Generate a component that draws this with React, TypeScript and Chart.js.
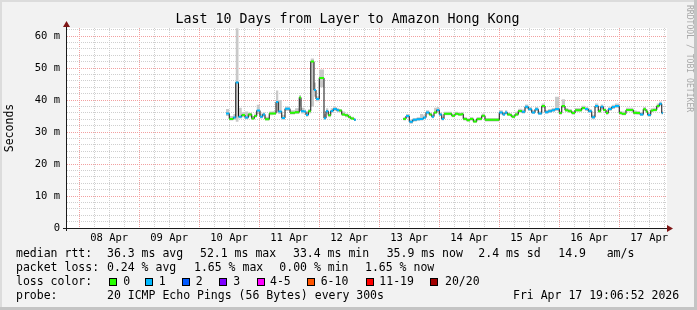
import React, { useEffect, useRef } from 'react';
import { Chart, registerables } from 'chart.js';

Chart.register(...registerables);

// ---------------- data ----------------
const TITLE = 'Last 10 Days from Layer to Amazon Hong Kong';
const Y_TITLE = 'Seconds';
const SIDE_TEXT = 'RRDTOOL / TOBI OETIKER';

// x axis: hours since Apr 7 19:06:52 (10 day window = 240 h)
const rangeHours = 240;
const firstMidnightHour = 4.8856; // Apr 8 00:00
const dayLabels = ['08 Apr', '09 Apr', '10 Apr', '11 Apr', '12 Apr', '13 Apr', '14 Apr', '15 Apr', '16 Apr', '17 Apr'];

const yMax = 62.5;
const yGridValues = [0, 2, 4, 6, 8, 10, 12, 14, 16, 18, 20, 22, 24, 26, 28, 30, 32, 34, 36, 38, 40, 42, 44, 46, 48, 50, 52, 54, 56, 58, 60, 62];
const yLabelMap: Record<number, string> = { 0: '0', 10: '10 m', 20: '20 m', 30: '30 m', 40: '40 m', 50: '50 m', 60: '60 m' };

// sample start times (hours); a null median marks the gap with no data
const hours = [
  63.6, 64.9, 66.5, 67.5, 68.6, 69.9, 71.2, 72.5, 73.9, 74.9,
  75.9, 77.2, 78.3, 79.2, 80.9, 82.3, 83.6, 84.5, 85.9, 87.2,
  89.2, 91.2, 92.9, 93.6, 94.8, 95.6, 96.5, 97.5, 98.8, 99.6,
  100.9, 102.8, 103.6, 104.5, 105.5, 106.5, 107.9, 108.9, 109.9, 111.2,
  112.5, 113.5, 114.8,
  115.5,
  134.5, 135.6, 136.9, 138.3, 139.9, 141.2, 142.5, 143.6, 144.9, 145.9,
  146.8, 147.9, 148.9, 149.9, 150.8, 152.5, 153.9, 155.2, 156.5, 157.9,
  158.5, 159.9, 161.2, 162.5, 163.9, 165.9, 167.2, 169.9, 171.9, 172.9,
  174.3, 175.2, 176.1, 177.2, 177.9, 179.2, 180.5, 181.9, 183.2, 184.5,
  185.9, 187.2, 188.5, 189.9, 191.2, 192.5, 193.9, 195.2, 196.9, 197.9,
  199.2, 200.5, 201.9, 203.2, 204.5, 205.9, 207.2, 208.5, 209.9, 211.2,
  212.5, 213.5, 214.5, 215.6, 216.5, 217.9, 219.2, 220.1, 220.9, 221.9,
  223.6, 225.2, 226.5, 227.9, 229.2, 230.5, 231.6, 232.3, 233.5, 234.5,
  235.9, 236.9, 237.9,
];
const endHour = 238.3;

const medianMs: (number | null)[] = [
  35.8, 34.1, 34.5, 45.5, 34.8, 35.3, 34.5, 35.5, 34.2, 35.0,
  36.7, 34.8, 35.5, 34.0, 35.8, 35.8, 39.4, 36.4, 34.4, 37.3,
  36.0, 36.2, 40.8, 36.5, 36.4, 35.3, 36.5, 52.0, 43.1, 40.3,
  46.9, 34.3, 36.5, 35.2, 36.6, 37.2, 36.8, 36.7, 35.5, 35.2,
  34.7, 34.2, 33.8,
  null,
  34.1, 35.0, 33.2, 33.8, 34.0, 34.1, 34.5, 36.1, 35.5, 34.8,
  36.1, 36.9, 35.5, 34.1, 35.7, 35.7, 35.1, 35.7, 35.5, 35.6,
  34.1, 33.7, 34.1, 33.3, 34.1, 35.1, 33.8, 33.8, 33.8, 36.1,
  35.5, 36.1, 35.5, 35.3, 34.8, 35.5, 36.6, 36.3, 37.9, 37.1,
  36.1, 37.1, 35.8, 38.1, 36.2, 36.5, 36.8, 37.2, 35.9, 38.1,
  36.8, 36.5, 35.9, 36.8, 36.8, 37.5, 37.2, 36.5, 34.6, 38.1,
  36.5, 37.9, 36.9, 35.9, 37.2, 37.8, 38.1, 38.1, 35.9, 35.7,
  36.9, 36.9, 36.0, 35.9, 35.5, 37.1, 36.4, 35.3, 36.7, 36.9,
  38.1, 38.8, 35.9,
];

// loss colour index per sample (0 = no loss, 1 = 1/20 ...)
const lossLevel: (number | null)[] = [
  1, 0, 1, 1, 1, 0, 1, 0, 0, 0,
  1, 1, 1, 0, 0, 0, 1, 1, 1, 1,
  0, 0, 0, 1, 1, 1, 0, 0, 1, 1,
  0, 1, 1, 0, 1, 1, 1, 0, 0, 0,
  0, 0, 1,
  null,
  0, 1, 1, 1, 1, 1, 1, 1, 0, 1,
  0, 1, 1, 1, 0, 0, 0, 0, 0, 0,
  0, 0, 0, 0, 0, 0, 0, 0, 0, 1,
  1, 1, 0, 0, 0, 0, 0, 1, 1, 1,
  1, 1, 1, 0, 1, 1, 1, 1, 0, 0,
  0, 0, 0, 0, 0, 0, 1, 1, 1, 1,
  0, 1, 0, 0, 1, 1, 1, 1, 0, 0,
  0, 0, 0, 0, 1, 0, 0, 1, 0, 0,
  0, 1, 1,
];

const smokeLowMs: (number | null)[] = [
  35.0, 33.6, 33.8, 33.2, 34.2, 34.6, 34.0, 34.8, 33.8, 34.5,
  35.6, 34.2, 34.9, 33.6, 35.2, 35.3, 36.0, 35.6, 33.8, 36.6,
  35.5, 35.6, 38.0, 35.8, 35.8, 34.8, 35.8, 38.0, 41.0, 39.6,
  44.0, 33.8, 35.8, 34.6, 36.0, 36.6, 36.2, 36.2, 35.0, 34.6,
  34.2, 33.8, 33.4,
  null,
  33.6, 34.4, 32.6, 33.3, 33.5, 33.6, 34.0, 35.5, 35.0, 34.3,
  35.6, 36.3, 35.0, 33.6, 35.2, 35.2, 34.6, 35.2, 35.0, 35.1,
  33.6, 33.2, 33.6, 32.8, 33.6, 34.6, 33.3, 33.3, 33.3, 35.5,
  35.0, 35.6, 35.0, 34.8, 34.3, 35.0, 36.0, 35.8, 37.3, 36.6,
  35.6, 36.6, 35.3, 37.5, 35.7, 36.0, 36.3, 36.6, 35.4, 37.5,
  36.3, 36.0, 35.4, 36.3, 36.3, 37.0, 36.6, 36.0, 34.0, 37.5,
  36.0, 37.3, 36.4, 35.4, 36.6, 37.2, 37.5, 37.5, 35.4, 35.2,
  36.4, 36.4, 35.5, 35.4, 35.0, 36.6, 35.9, 34.8, 36.2, 36.4,
  37.5, 38.2, 35.3,
];

const smokeHighMs: (number | null)[] = [
  37.2, 35.0, 35.6, 62.4, 37.6, 36.2, 36.4, 36.0, 35.0, 35.8,
  38.5, 35.8, 36.1, 34.8, 36.4, 36.5, 43.0, 40.0, 35.4, 38.0,
  36.8, 37.4, 41.6, 37.6, 37.0, 36.0, 37.2, 53.0, 45.5, 41.2,
  49.5, 35.6, 37.4, 35.8, 37.4, 37.8, 37.4, 37.2, 36.4, 35.8,
  35.2, 34.8, 34.3,
  null,
  34.7, 35.6, 33.9, 34.4, 34.6, 35.6, 35.2, 36.8, 36.1, 35.4,
  37.6, 37.8, 36.1, 34.8, 36.3, 36.3, 35.7, 36.3, 36.1, 36.2,
  34.7, 34.3, 34.7, 33.9, 34.7, 35.8, 34.4, 34.4, 34.4, 36.8,
  36.1, 36.8, 36.1, 35.9, 35.4, 36.3, 37.3, 37.0, 38.6, 37.8,
  36.8, 37.8, 36.5, 38.9, 36.9, 37.2, 37.5, 41.0, 36.6, 40.2,
  37.5, 37.2, 36.6, 37.5, 37.5, 38.2, 37.9, 37.2, 35.4, 38.9,
  37.2, 38.6, 37.6, 36.6, 37.9, 38.5, 38.9, 38.9, 36.6, 36.4,
  37.6, 37.6, 36.7, 36.6, 36.2, 37.8, 37.1, 36.0, 37.4, 37.6,
  38.9, 39.5, 36.6,
];

const lossLabels = ['0', '1', '2', '3', '4-5', '6-10', '11-19', '20/20'];
const lossColors = ['#26ff00', '#00b8ff', '#0059ff', '#7e00ff', '#ff00ff', '#ff5500', '#ff0000', '#a10000'];

const rttHeader = 'median rtt:';
const rttStats = ['36.3 ms avg', '52.1 ms max', '33.4 ms min', '35.9 ms now', '2.4 ms sd', '14.9', 'am/s'];
const lossHeader = 'packet loss:';
const lossStats = ['0.24 % avg', '1.65 % max', '0.00 % min', '1.65 % now'];
const colorHeader = 'loss color:';
const probeHeader = 'probe:';
const probeText = '20 ICMP Echo Pings (56 Bytes) every 300s';
const stampText = 'Fri Apr 17 19:06:52 2026';

// ---------------- layout / style ----------------
const W = 697;
const H = 310;
const MONO = '"DejaVu Sans Mono", monospace';
const rttX = [107, 200, 293, 386.7, 478.3, 558.3, 606.7];
const lossX = [107, 194, 279.3, 365];
const boxX = [109, 145, 182, 219, 257, 307, 366, 430];
const boxLabelX = [123.3, 158.7, 195.7, 233.3, 270, 320.7, 379.3, 445];
const MAJOR_GRID = '#f2a0a0';
const MINOR_GRID = '#cfcfcf';

type P = { x: number; y: number | null };

function stepPoints(vals: (number | null)[]): P[] {
  const pts: P[] = [];
  for (let i = 0; i < hours.length; i++) {
    const v = vals[i];
    const next = i + 1 < hours.length ? hours[i + 1] : endHour;
    if (v === null) {
      pts.push({ x: hours[i], y: null });
      continue;
    }
    pts.push({ x: hours[i], y: v });
    const nv = i + 1 < hours.length ? vals[i + 1] : null;
    if (nv === null) pts.push({ x: next, y: v });
  }
  return pts;
}

function lossSegments(level: number): P[] {
  const pts: P[] = [];
  for (let i = 0; i < hours.length; i++) {
    const v = medianMs[i];
    if (v === null || lossLevel[i] !== level) continue;
    const next = i + 1 < hours.length ? hours[i + 1] : endHour;
    pts.push({ x: hours[i], y: v }, { x: next, y: v }, { x: next, y: null });
  }
  return pts;
}

const framePlugin = {
  id: 'frame',
  beforeDraw(chart: any) {
    const { ctx, chartArea: a } = chart;
    ctx.save();
    ctx.fillStyle = '#f2f2f2';
    ctx.fillRect(0, 0, W, H);
    ctx.fillStyle = '#dcdcdc';
    ctx.fillRect(0, 0, W, 2);
    ctx.fillRect(0, 0, 2, H);
    ctx.fillStyle = '#c4c4c4';
    ctx.fillRect(W - 3, 0, 3, H);
    ctx.fillRect(0, H - 3, W, 3);
    ctx.fillStyle = '#ffffff';
    ctx.fillRect(a.left, a.top, a.right - a.left, a.bottom - a.top);
    ctx.restore();
  },
  afterDatasetsDraw(chart: any) {
    const { ctx, chartArea: a } = chart;
    ctx.save();
    // axes
    ctx.fillStyle = '#1a1a1a';
    ctx.fillRect(a.left - 1, a.top - 3, 1, a.bottom - a.top + 6);
    ctx.fillRect(a.left - 4, a.bottom, a.right - a.left + 6, 1);
    // arrows
    ctx.fillStyle = '#7f1616';
    ctx.beginPath();
    ctx.moveTo(a.left - 4, a.top - 1);
    ctx.lineTo(a.left + 3, a.top - 1);
    ctx.lineTo(a.left - 0.5, a.top - 7);
    ctx.closePath();
    ctx.fill();
    ctx.beginPath();
    ctx.moveTo(a.right, a.bottom - 3);
    ctx.lineTo(a.right, a.bottom + 4);
    ctx.lineTo(a.right + 6, a.bottom + 0.5);
    ctx.closePath();
    ctx.fill();
    ctx.restore();
  },
  afterDraw(chart: any) {
    const { ctx } = chart;
    ctx.save();
    ctx.fillStyle = '#000';
    ctx.textBaseline = 'middle';
    ctx.textAlign = 'center';
    ctx.font = `13.3px ${MONO}`;
    ctx.fillText(TITLE, 347.5, 19.5);

    ctx.textAlign = 'left';
    ctx.font = `11.5px ${MONO}`;
    ctx.fillText(rttHeader, 16, 254);
    rttStats.forEach((s, i) => ctx.fillText(s, rttX[i], 254));
    ctx.fillText(lossHeader, 16, 268.5);
    lossStats.forEach((s, i) => ctx.fillText(s, lossX[i], 268.5));
    ctx.fillText(colorHeader, 16, 282);
    lossLabels.forEach((s, i) => {
      ctx.fillStyle = lossColors[i];
      ctx.fillRect(boxX[i], 278, 8, 8);
      ctx.strokeStyle = '#000';
      ctx.lineWidth = 1;
      ctx.strokeRect(boxX[i] + 0.5, 278.5, 7, 7);
      ctx.fillStyle = '#000';
      ctx.fillText(s, boxLabelX[i], 282);
    });
    ctx.fillText(probeHeader, 16, 296);
    ctx.fillText(probeText, 107, 296);
    ctx.fillText(stampText, 513, 296);

    ctx.fillStyle = '#a8a8a8';
    ctx.font = `8.1px ${MONO}`;
    ctx.translate(689, 5);
    ctx.rotate(Math.PI / 2);
    ctx.fillText(SIDE_TEXT, 0, 0);
    ctx.restore();
  },
};

export default function App() {
  const ref = useRef<HTMLCanvasElement>(null);
  useEffect(() => {
    document.body.style.margin = '0';
    const canvas = ref.current!;
    const datasets: any[] = [
      {
        label: 'smokeLo',
        data: stepPoints(smokeLowMs),
        stepped: true,
        borderColor: 'rgba(0,0,0,0)',
        borderWidth: 1,
        pointRadius: 0,
        fill: false,
        order: 10,
      },
      {
        label: 'smokeHi',
        data: stepPoints(smokeHighMs),
        stepped: true,
        borderColor: 'rgba(0,0,0,0)',
        borderWidth: 1,
        backgroundColor: '#c9c9c9',
        pointRadius: 0,
        fill: '-1',
        order: 9,
      },
      {
        label: 'median',
        data: stepPoints(medianMs),
        stepped: true,
        borderColor: '#111',
        borderWidth: 1,
        pointRadius: 0,
        fill: false,
        order: 5,
      },
      ...lossColors.map((c, L) => ({
        label: 'loss ' + lossLabels[L],
        data: lossSegments(L),
        borderColor: c,
        borderWidth: 2,
        borderCapStyle: 'butt',
        pointRadius: 0,
        fill: false,
        order: 1,
      })),
    ];

    const chart = new Chart(canvas, {
      type: 'line',
      data: { datasets },
      options: {
        animation: false,
        responsive: false,
        devicePixelRatio: 1,
        parsing: false as any,
        spanGaps: false,
        layout: { padding: { left: 0, top: 28, right: 30, bottom: 62 } },
        plugins: {
          legend: { display: false },
          tooltip: { enabled: false },
          title: { display: false },
        },
        scales: {
          x: {
            type: 'linear',
            min: 0,
            max: rangeHours,
            afterBuildTicks: (s: any) => {
              const t = [];
              for (let h = firstMidnightHour; h <= rangeHours; h += 6) t.push({ value: h });
              s.ticks = t;
            },
            afterFit: (s: any) => {
              s.height = 20;
            },
            grid: {
              color: (c: any) => (c.index % 4 === 0 ? MAJOR_GRID : MINOR_GRID),
              lineWidth: 1,
              drawTicks: false,
            },
            border: { display: false, dash: [1, 1] },
            ticks: {
              autoSkip: false,
              maxRotation: 0,
              minRotation: 0,
              padding: 4,
              color: '#000',
              font: { family: MONO, size: 10.5 },
              callback: (_v: any, i: number) => (i % 4 === 2 ? dayLabels[(i - 2) / 4] ?? '' : ''),
            },
          },
          y: {
            type: 'linear',
            min: 0,
            max: yMax,
            afterBuildTicks: (s: any) => {
              s.ticks = yGridValues.map((v) => ({ value: v }));
            },
            afterFit: (s: any) => {
              s.width = 67;
            },
            grid: {
              color: (c: any) => (c.tick && c.tick.value % 10 === 0 ? MAJOR_GRID : MINOR_GRID),
              lineWidth: 1,
              drawTicks: false,
            },
            border: { display: false, dash: [1, 1] },
            title: {
              display: true,
              text: Y_TITLE,
              color: '#000',
              font: { family: MONO, size: 11.5 },
              padding: { top: 3, bottom: 0 },
            },
            ticks: {
              autoSkip: false,
              padding: 7,
              color: '#000',
              font: { family: MONO, size: 10.5 },
              callback: (v: any) => yLabelMap[v as number] ?? '',
            },
          },
        },
      } as any,
      plugins: [framePlugin],
    });
    return () => chart.destroy();
  }, []);

  return (
    <div style={{ width: W, height: H }}>
      <canvas ref={ref} width={W} height={H} style={{ display: 'block', width: W, height: H }} />
    </div>
  );
}
